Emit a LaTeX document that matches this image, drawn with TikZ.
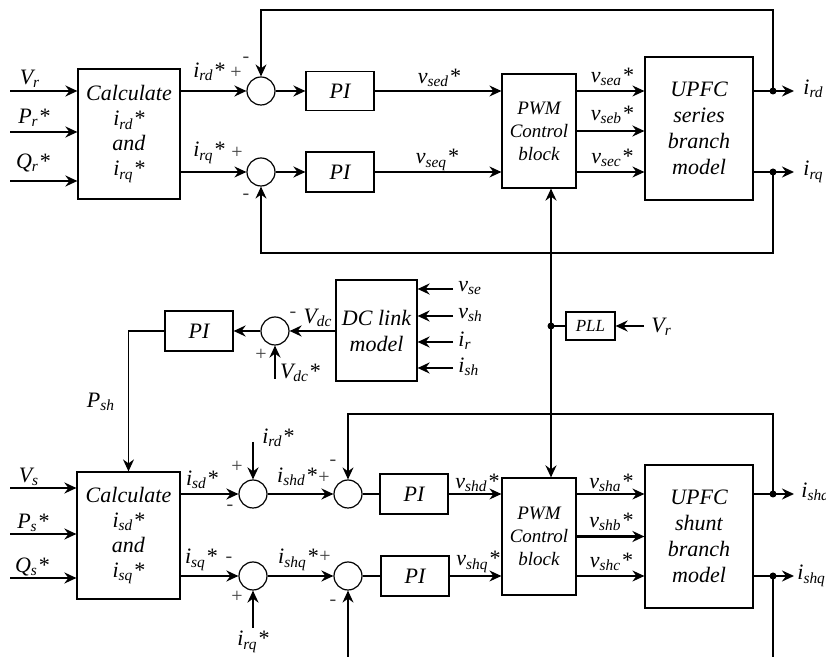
\documentclass[tikz,border=0pt]{standalone}
\usepackage{fontspec}
\setmainfont{Liberation Serif}
\usetikzlibrary{arrows.meta,calc}
\newcommand{\sbs}[1]{\textsubscript{#1}}
\begin{document}
\begin{tikzpicture}[x=0.5pt,y=-0.5pt,
  font=\fontsize{11}{12}\selectfont\itshape,
  blk/.style={draw, line width=0.6pt, inner sep=0pt, align=center, font=\fontsize{11}{12.5}\selectfont\itshape},
  sumc/.style={draw, circle, line width=0.6pt, minimum size=14pt, inner sep=0pt},
  ln/.style={line width=0.6pt},
  ar/.style={line width=0.6pt, -{Stealth[length=6pt,width=5.5pt,inset=2pt]}},
  tar/.style={line width=1.1pt, -{Stealth[length=6pt,width=5.5pt,inset=2pt]}},
  lbl/.style={inner sep=0pt},
  sg/.style={inner sep=0pt, font=\fontsize{10}{11}\selectfont\upshape, text=black!75},
  dot/.style={circle, fill, inner sep=0pt, minimum size=3.5pt}]

\useasboundingbox (0,0) rectangle (826,657);

% ---------------- series (top) part ----------------
\node[blk, minimum width=51pt, minimum height=65pt] (cr) at (129,134) {Calculate\\ i\sbs{rd}*\\ and\\ i\sbs{rq}*};
\node[sumc] (s1) at (261,91) {};
\node[sumc] (s2) at (261,172) {};
\node[blk, minimum width=34pt, minimum height=19.5pt] (pi1) at (340,91) {PI};
\node[blk, minimum width=34pt, minimum height=20pt] (pi2) at (340,172) {PI};
\node[blk, minimum width=37pt, minimum height=57pt, font=\fontsize{9.5}{11.5}\selectfont\itshape] (pwm1) at (539,131) {PWM\\Control\\block};
\node[blk, minimum width=54pt, minimum height=71.5pt, font=\fontsize{11}{13}\selectfont\itshape] (up1) at (699,128.5) {UPFC\\series\\branch\\model};

\coordinate (vr) at (10,91);
\coordinate (pr) at (10,132);
\coordinate (qr) at (10,181);
\draw[tar] (vr) -- (vr -| cr.west);
\draw[tar] (pr) -- (pr -| cr.west);
\draw[tar] (qr) -- (qr -| cr.west);
\node[lbl] at (30,79) {V\sbs{r}};
\node[lbl] at (34,118) {P\sbs{r}*};
\node[lbl] at (33,163) {Q\sbs{r}*};

\draw[tar] (cr.east |- s1) -- (s1.west);
\draw[ar] (cr.east |- s2) -- (s2.west);
\draw[tar] (s1.east) -- (pi1.west);
\draw[tar] (s2.east) -- (pi2.west);
\draw[ar] (pi1.east) -- (pi1.east -| pwm1.west);
\draw[ar] (pi2.east) -- (pi2.east -| pwm1.west);
\draw[ar] (pwm1.east |- pi1) -- (up1.west |- pi1);
\draw[tar] (pwm1.east) -- (pwm1.east -| up1.west);
\draw[ar] (pwm1.east |- pi2) -- (up1.west |- pi2);

\node[lbl] at (209,72) {i\sbs{rd}*};
\node[sg] at (236,73) {+};
\node[sg] at (246,60) {-};
\node[lbl] at (209,153) {i\sbs{rq}*};
\node[sg] at (237,153) {+};
\node[sg] at (246,197) {-};
\node[lbl] at (439,78) {v\sbs{sed}*};
\node[lbl] at (437,160) {v\sbs{seq}*};
\node[lbl] at (612,77) {v\sbs{sea}*};
\node[lbl] at (612,115) {v\sbs{seb}*};
\node[lbl] at (612,158) {v\sbs{sec}*};

\coordinate (jd) at (773,91);
\coordinate (jq) at (773,172);
\coordinate (ird) at (794,91);
\coordinate (irq) at (794,172);
\coordinate (tfr) at (773,10);
\coordinate (bfr) at (773,253);
\draw[ln] (up1.east |- jd) -- (jd);
\draw[ln] (up1.east |- jq) -- (jq);
\draw[tar] (jd) -- (ird);
\draw[tar] (jq) -- (irq);
\node[dot] at (jd) {};
\node[dot] at (jq) {};
\draw[ar] (jd) -- (tfr) -| (s1.north);
\draw[ar] (jq) -- (bfr) -| (s2.south);
\node[lbl, anchor=west] at (803,89) {i\sbs{rd}};
\node[lbl, anchor=west] at (803,172) {i\sbs{rq}};

% ---------------- PLL ----------------
\node[blk, minimum width=24.5pt, minimum height=14pt, font=\fontsize{8.5}{10}\selectfont\itshape] (pll) at (590.5,326) {PLL};
\coordinate (jp) at (551,326);
\coordinate (vrp) at (644,326);
\draw[ln] (pll.west) -- (jp);
\node[dot] at (jp) {};
\draw[tar] (vrp) -- (pll.east);
\node[lbl, anchor=west] at (651,327) {V\sbs{r}};

% ---------------- DC link ----------------
\node[blk, minimum width=40.5pt, minimum height=50.5pt, font=\fontsize{11}{13}\selectfont\itshape] (dc) at (376.5,330.5) {DC link\\model};
\node[sumc] (s3) at (275,331) {};
\node[blk, minimum width=34pt, minimum height=20pt] (pi3) at (199,331) {PI};
\coordinate (d1) at (453,289);
\coordinate (d2) at (453,316);
\coordinate (d3) at (453,342);
\coordinate (d4) at (453,368);
\draw[tar] (d1) -- (d1 -| dc.east);
\draw[tar] (d2) -- (d2 -| dc.east);
\draw[tar] (d3) -- (d3 -| dc.east);
\draw[tar] (d4) -- (d4 -| dc.east);
\node[lbl, anchor=west] at (458,288) {v\sbs{se}};
\node[lbl, anchor=west] at (458,315) {v\sbs{sh}};
\node[lbl, anchor=west] at (458,341) {i\sbs{r}};
\node[lbl, anchor=west] at (458,367) {i\sbs{sh}};
\draw[tar] (dc.west |- s3) -- (s3.east);
\draw[tar] (s3.west) -- (pi3.east |- s3);
\coordinate (vdcs) at (275,379);
\draw[tar] (vdcs) -- (s3.south);
\node[lbl] at (318,318) {V\sbs{dc}};
\node[sg] at (293,315) {-};
\node[lbl] at (300,373) {V\sbs{dc}*};
\node[sg] at (261,355) {+};

% ---------------- shunt (bottom) part ----------------
\node[blk, minimum width=51.5pt, minimum height=63.5pt] (cs) at (128.5,535.5) {Calculate\\ i\sbs{sd}*\\ and\\ i\sbs{sq}*};
\draw[ar] (pi3.west) -| (cs.north);
\node[lbl] at (101,402) {P\sbs{sh}};

\node[sumc] (s4) at (253,494) {};
\node[sumc] (s5) at (348,494) {};
\node[sumc] (s6) at (253,576) {};
\node[sumc] (s7) at (348,576) {};
\node[blk, minimum width=34pt, minimum height=20pt] (pi4) at (414,494) {PI};
\node[blk, minimum width=34pt, minimum height=20pt] (pi5) at (415,576) {PI};
\node[blk, minimum width=37pt, minimum height=58.5pt, font=\fontsize{9.5}{11.5}\selectfont\itshape] (pwm2) at (539,536.5) {PWM\\Control\\block};
\node[blk, minimum width=54pt, minimum height=71.5pt, font=\fontsize{11}{13}\selectfont\itshape] (up2) at (699,536.5) {UPFC\\shunt\\branch\\model};

\draw[tar] (jp) -- (jp |- pwm1.south);
\draw[tar] (jp) -- (jp |- pwm2.north);

\coordinate (vs) at (10,488);
\coordinate (ps) at (10,534);
\coordinate (qs) at (10,578);
\draw[tar] (vs) -- (vs -| cs.west);
\draw[tar] (ps) -- (ps -| cs.west);
\draw[tar] (qs) -- (qs -| cs.west);
\node[lbl] at (29,477) {V\sbs{s}};
\node[lbl] at (33,523) {P\sbs{s}*};
\node[lbl] at (32,567) {Q\sbs{s}*};

\draw[tar] (cs.east |- s4) -- (s4.west);
\draw[tar] (cs.east |- s6) -- (s6.west);
\coordinate (irdin) at (253,442);
\coordinate (irqin) at (253,628);
\draw[tar] (irdin) -- (s4.north);
\draw[tar] (irqin) -- (s6.south);
\draw[tar] (s4.east) -- (s5.west);
\draw[tar] (s6.east) -- (s7.west);
\draw[ln] (s5.east) -- (pi4.west);
\draw[ln] (s7.east) -- (pi5.west);
\draw[ar] (pi4.east) -- (pi4.east -| pwm2.west);
\draw[ar] (pi5.east) -- (pi5.east -| pwm2.west);
\draw[ar] (pwm2.east |- pi4) -- (up2.west |- pi4);
\draw[tar] (pwm2.east) -- (pwm2.east -| up2.west);
\draw[ar] (pwm2.east |- pi5) -- (up2.west |- pi5);

\node[lbl] at (202,480) {i\sbs{sd}*};
\node[sg] at (237,467) {+};
\node[sg] at (230,508) {-};
\node[lbl] at (278,438) {i\sbs{rd}*};
\node[lbl] at (297,477) {i\sbs{shd}*};
\node[sg] at (324,478) {+};
\node[sg] at (333,463) {-};
\node[lbl] at (201,560) {i\sbs{sq}*};
\node[sg] at (229,560) {-};
\node[sg] at (237,597) {+};
\node[lbl] at (253,642) {i\sbs{rq}*};
\node[lbl] at (298,560) {i\sbs{shq}*};
\node[sg] at (325,557) {+};
\node[sg] at (333,603) {-};
\node[lbl] at (477,483) {v\sbs{shd}*};
\node[lbl] at (478,562) {v\sbs{shq}*};
\node[lbl] at (611,483) {v\sbs{sha}*};
\node[lbl] at (611,522) {v\sbs{shb}*};
\node[lbl] at (611,562) {v\sbs{shc}*};

\coordinate (jsd) at (773,494);
\coordinate (jsq) at (773,576);
\coordinate (isd) at (794,494);
\coordinate (isq) at (794,576);
\coordinate (tfs) at (773,414);
\coordinate (bfs) at (773,657);
\coordinate (bs7) at (348,657);
\draw[ln] (up2.east |- jsd) -- (jsd);
\draw[ln] (up2.east |- jsq) -- (jsq);
\draw[tar] (jsd) -- (isd);
\draw[tar] (jsq) -- (isq);
\node[dot] at (jsd) {};
\node[dot] at (jsq) {};
\draw[ar] (jsd) -- (tfs) -| (s5.north);
\draw[ln] (jsq) -- (bfs);
\draw[ar] (bs7) -- (s7.south);
\node[lbl, anchor=west] at (801,492) {i\sbs{sha}};
\node[lbl, anchor=west] at (797,576) {i\sbs{shq}};
\end{tikzpicture}
\end{document}
